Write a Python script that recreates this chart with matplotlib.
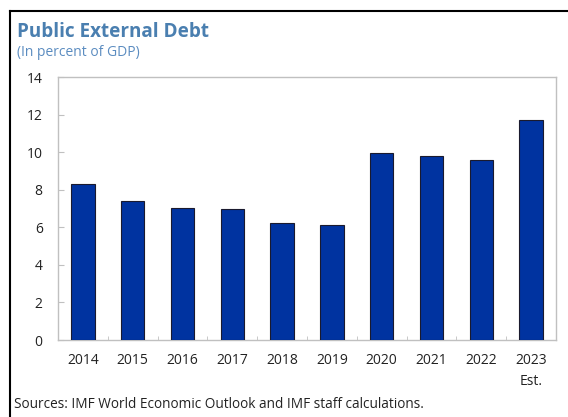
import numpy as np
import matplotlib
matplotlib.use('Agg')
import matplotlib.pyplot as plt
from matplotlib.lines import Line2D

years = ['2014', '2015', '2016', '2017', '2018', '2019', '2020', '2021', '2022', '2023\nEst.']
debt = [8.3, 7.4, 7.05, 6.97, 6.25, 6.12, 9.98, 9.8, 9.6, 11.72]

plt.rcParams['font.family'] = ['Open Sans', 'DejaVu Sans']

fig = plt.figure(figsize=(5.68, 4.17), dpi=100)
# axes box in figure coords: plot area spans x 58..556, y 77..340 px
ax = fig.add_axes([58 / 568, (417 - 340) / 417, 498 / 568, 263 / 417])

ind = np.arange(len(years))
ax.bar(ind, debt, 0.47, color='#0033a0', edgecolor='#1a1a2e', linewidth=0.8, zorder=3)

ax.set_xlim(-0.5, len(years) - 0.5)
ax.set_ylim(0, 14)
ax.set_yticks(np.arange(0, 15, 2))
ax.set_xticks(ind)
ax.set_xticklabels(years, linespacing=1.55)
ax.set_xticks(np.arange(0.5, len(years) - 1, 1), minor=True)

for s in ax.spines.values():
    s.set_color('#c0c0c0')
    s.set_linewidth(1.0)

ax.tick_params(axis='x', which='major', length=0, pad=9, labelsize=10, labelcolor='#222222')
ax.tick_params(axis='x', which='minor', direction='in', length=3, color='#c0c0c0')
ax.tick_params(axis='y', direction='in', length=4, color='#c0c0c0', pad=11,
               labelsize=10, labelcolor='#222222')

# title and notes
fig.text(17 / 568, 1 - 32 / 417, 'Public External Debt', fontsize=13.6, fontweight='bold',
         color='#4a7fb0', va='center', ha='left')
fig.text(17 / 568, 1 - 53 / 417, '(In percent of GDP)', fontsize=10,
         color='#5b8cc0', va='center', ha='left')
fig.text(14 / 568, 1 - 405 / 417, 'Sources: IMF World Economic Outlook and IMF staff calculations.',
         fontsize=9.85, color='#222222', va='center', ha='left')

# border lines at left and top
fig.add_artist(Line2D([9.5 / 568, 9.5 / 568], [0, 1 - 11 / 417], color='black', lw=1.5,
                      transform=fig.transFigure))
fig.add_artist(Line2D([9.5 / 568, 1], [1 - 11 / 417, 1 - 11 / 417], color='black', lw=1.5,
                      transform=fig.transFigure))

fig.savefig('out.png', dpi=100)
